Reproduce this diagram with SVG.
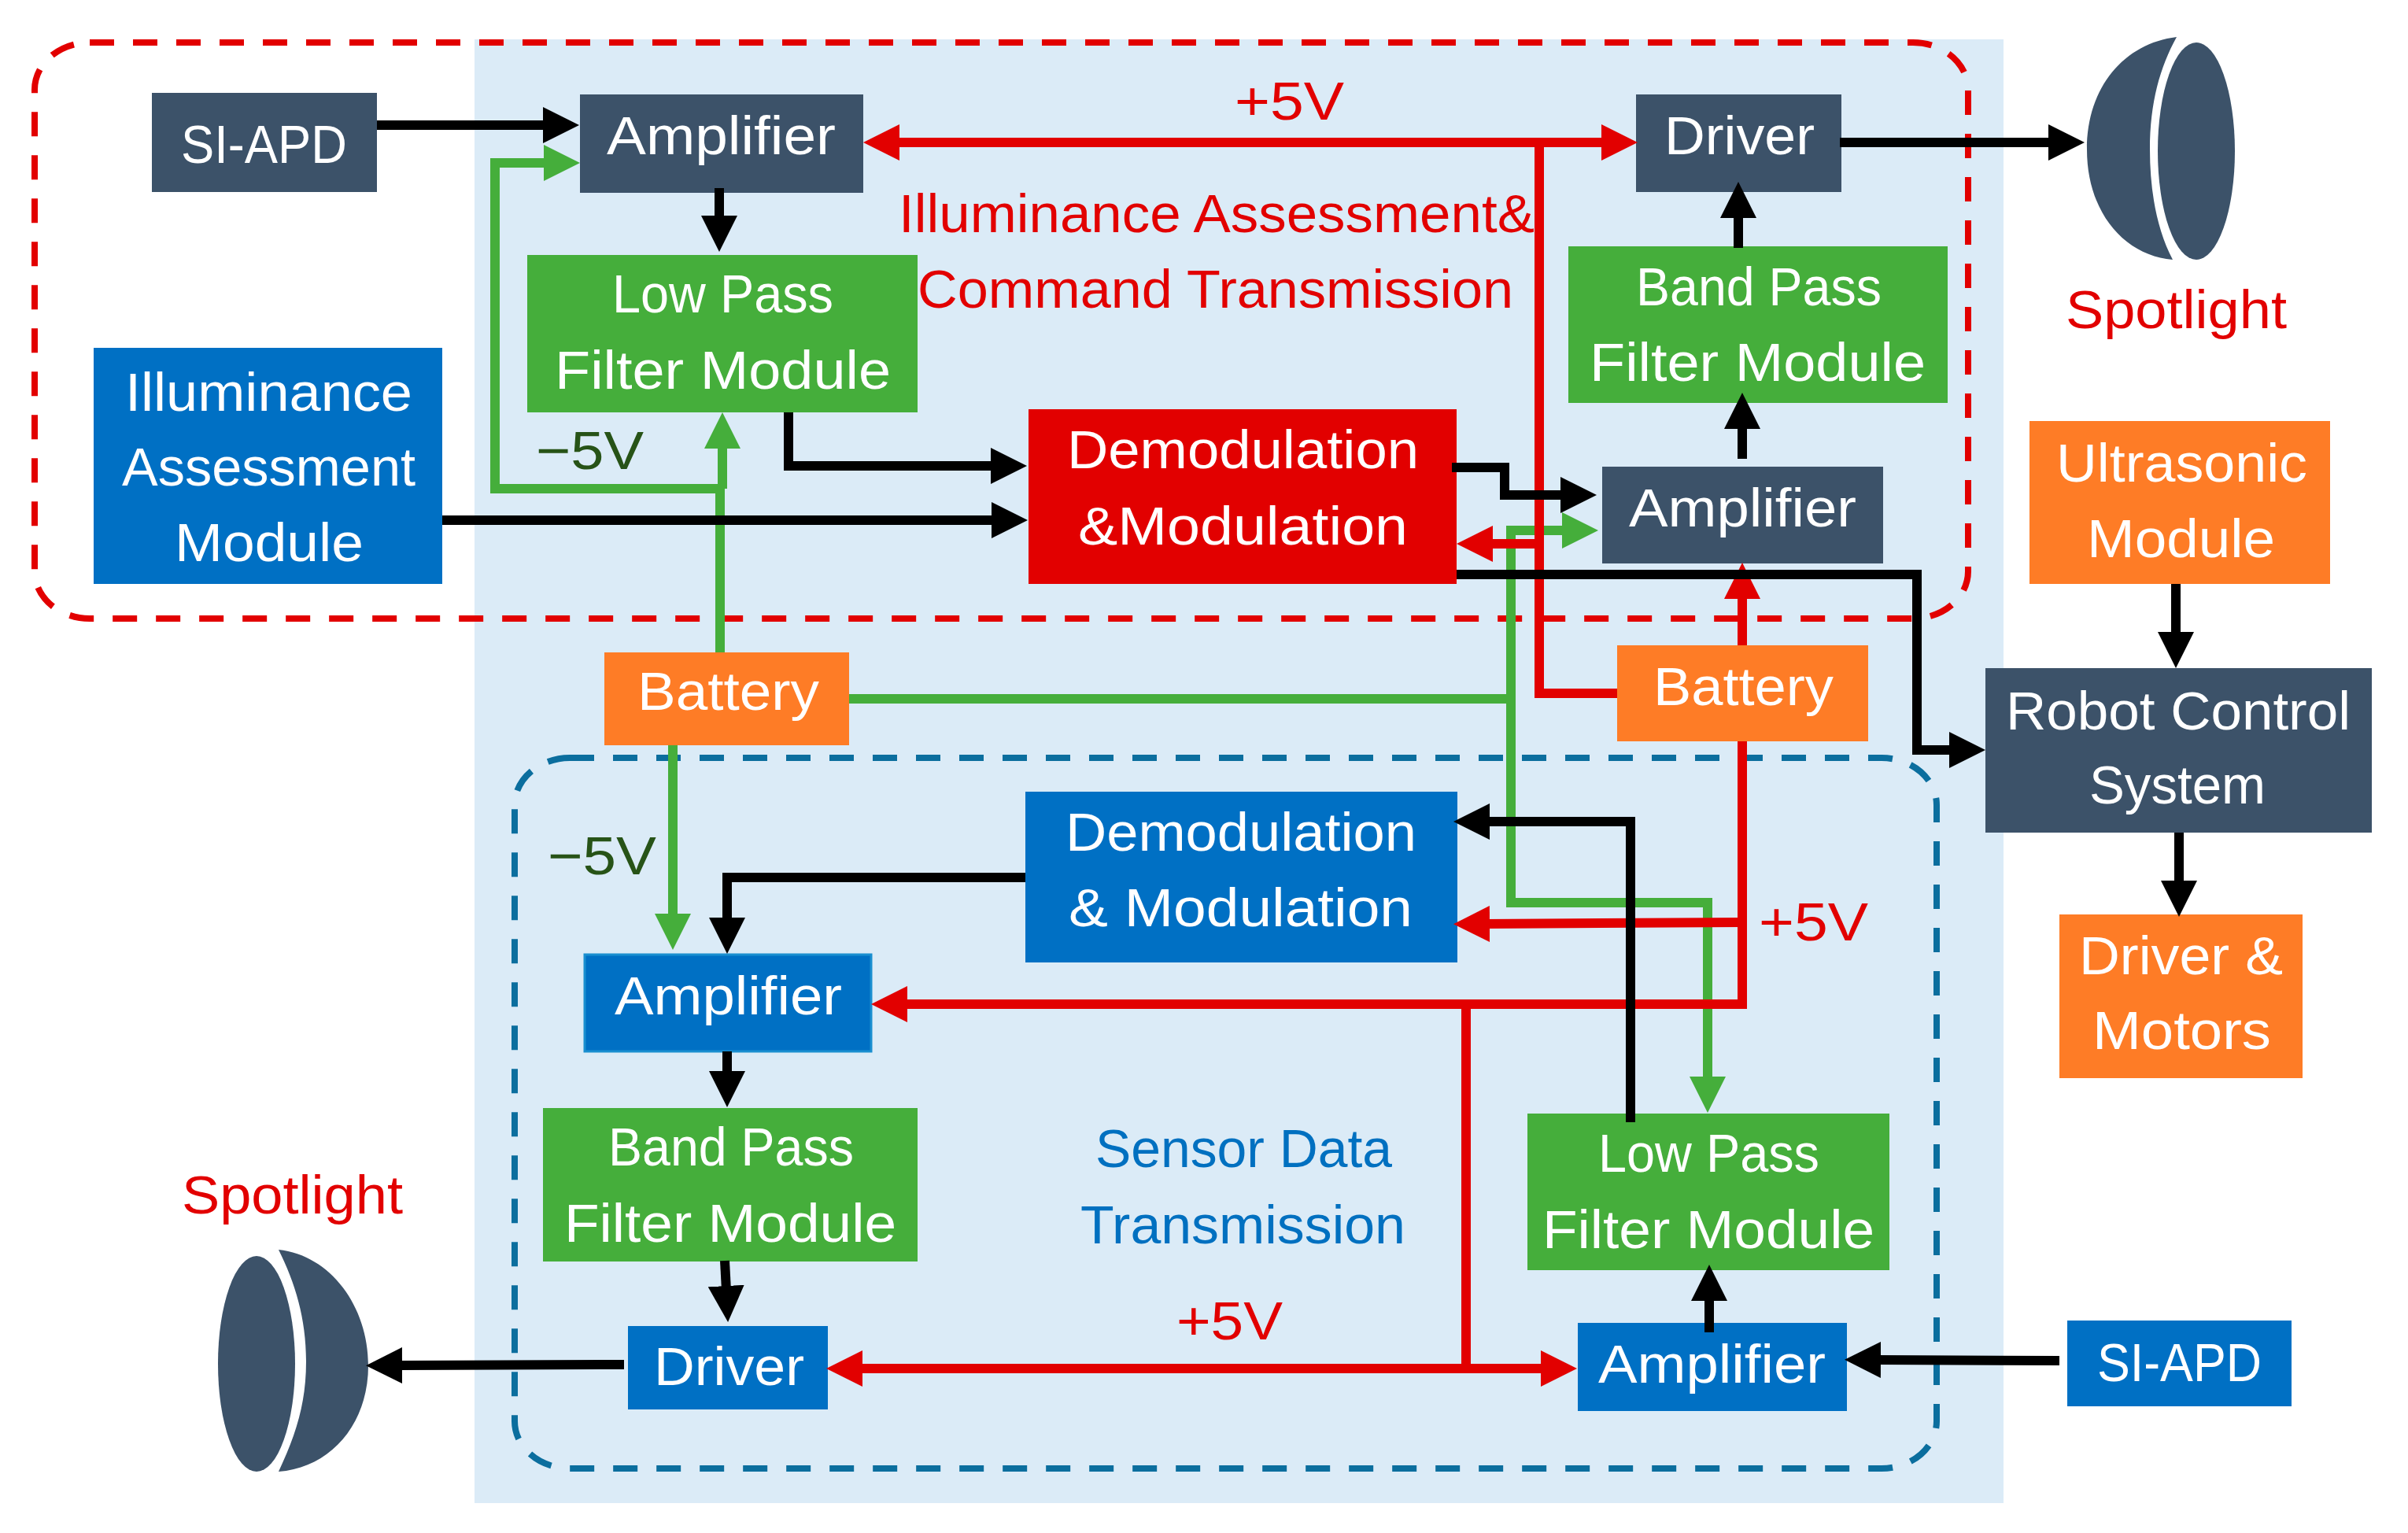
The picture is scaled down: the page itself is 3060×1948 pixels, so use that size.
<svg xmlns="http://www.w3.org/2000/svg" width="3060" height="1948" viewBox="0 0 3060 1948">
<style>
text{font-family:"Liberation Sans",Arial,sans-serif;font-size:69px}
.w{fill:#fff}.r{fill:#e20000}.g{fill:#275317}.b{fill:#0070c0}
.navy{fill:#3c5269}.green{fill:#45ae3b}.blue{fill:#0070c4}.orange{fill:#fe7c26}.red{fill:#e20000}
.c{fill:none;stroke-width:12;stroke-linejoin:miter}
.kb{stroke:#000}.kr{stroke:#e20000}.kg{stroke:#45ae3b}
.ab{marker-end:url(#hb)}.ar{marker-end:url(#hr)}.ag{marker-end:url(#hg)}
</style>
<defs>
<marker id="hb" markerUnits="userSpaceOnUse" markerWidth="46" markerHeight="46" refX="6" refY="23" orient="auto-start-reverse"><polygon points="0,0 46,23 0,46" fill="#000"/></marker>
<marker id="hr" markerUnits="userSpaceOnUse" markerWidth="46" markerHeight="46" refX="6" refY="23" orient="auto-start-reverse"><polygon points="0,0 46,23 0,46" fill="#e20000"/></marker>
<marker id="hg" markerUnits="userSpaceOnUse" markerWidth="46" markerHeight="46" refX="6" refY="23" orient="auto-start-reverse"><polygon points="0,0 46,23 0,46" fill="#45ae3b"/></marker>
</defs>
<rect width="3060" height="1948" fill="#fff"/>
<rect id="background" x="603" y="50" width="1943" height="1860" fill="#dbebf7"/>
<g id="regions" fill="none">
<rect x="44" y="54" width="2457" height="732" rx="70" ry="60" stroke="#e20000" stroke-width="8" stroke-dasharray="31 24"/>
<rect x="654" y="963" width="1807" height="903" rx="70" ry="60" stroke="#0b6e9e" stroke-width="8" stroke-dasharray="31 24"/>
</g>

<g id="n-siapd-top"><rect class="navy" x="193" y="118" width="286" height="126"/><text class="w" x="230" y="207" textLength="211" lengthAdjust="spacingAndGlyphs">SI-APD</text></g>
<g id="n-amp-top"><rect class="navy" x="737" y="120" width="360" height="125"/><text class="w" x="771" y="196" textLength="291" lengthAdjust="spacingAndGlyphs">Amplifier</text></g>
<g id="n-lpf-top"><rect class="green" x="670" y="324" width="496" height="200"/><text class="w" x="778" y="397" textLength="281" lengthAdjust="spacingAndGlyphs">Low Pass</text><text class="w" x="705" y="494" textLength="427" lengthAdjust="spacingAndGlyphs">Filter Module</text></g>
<g id="n-illum"><rect class="blue" x="119" y="442" width="443" height="300"/><text class="w" x="159" y="522" textLength="365" lengthAdjust="spacingAndGlyphs">Illuminance</text><text class="w" x="155" y="617" textLength="373" lengthAdjust="spacingAndGlyphs">Assessment</text><text class="w" x="222" y="713" textLength="240" lengthAdjust="spacingAndGlyphs">Module</text></g>
<g id="n-demod-red"><rect class="red" x="1307" y="520" width="544" height="222"/><text class="w" x="1356" y="595" textLength="447" lengthAdjust="spacingAndGlyphs">Demodulation</text><text class="w" x="1370" y="692" textLength="419" lengthAdjust="spacingAndGlyphs">&amp;Modulation</text></g>
<g id="n-driver-top"><rect class="navy" x="2079" y="120" width="261" height="124"/><text class="w" x="2115" y="196" textLength="191" lengthAdjust="spacingAndGlyphs">Driver</text></g>
<g id="n-bpf-top"><rect class="green" x="1993" y="313" width="482" height="199"/><text class="w" x="2079" y="388" textLength="312" lengthAdjust="spacingAndGlyphs">Band Pass</text><text class="w" x="2020" y="484" textLength="427" lengthAdjust="spacingAndGlyphs">Filter Module</text></g>
<g id="n-amp-right"><rect class="navy" x="2036" y="593" width="357" height="123"/><text class="w" x="2070" y="669" textLength="289" lengthAdjust="spacingAndGlyphs">Amplifier</text></g>
<g id="n-ultra"><rect class="orange" x="2579" y="535" width="382" height="207"/><text class="w" x="2613" y="612" textLength="319" lengthAdjust="spacingAndGlyphs">Ultrasonic</text><text class="w" x="2652" y="708" textLength="239" lengthAdjust="spacingAndGlyphs">Module</text></g>
<g id="n-robot"><rect class="navy" x="2523" y="849" width="491" height="209"/><text class="w" x="2549" y="927" textLength="438" lengthAdjust="spacingAndGlyphs">Robot Control</text><text class="w" x="2655" y="1021" textLength="224" lengthAdjust="spacingAndGlyphs">System</text></g>
<g id="n-motors"><rect class="orange" x="2617" y="1162" width="309" height="208"/><text class="w" x="2642" y="1238" textLength="259" lengthAdjust="spacingAndGlyphs">Driver &amp;</text><text class="w" x="2659" y="1333" textLength="227" lengthAdjust="spacingAndGlyphs">Motors</text></g>
<g id="n-battery-left"><rect class="orange" x="768" y="829" width="311" height="118"/><text class="w" x="810" y="902" textLength="231" lengthAdjust="spacingAndGlyphs">Battery</text></g>
<g id="n-battery-right"><rect class="orange" x="2055" y="820" width="319" height="122"/><text class="w" x="2101" y="896" textLength="229" lengthAdjust="spacingAndGlyphs">Battery</text></g>
<g id="n-demod-blue"><rect class="blue" x="1303" y="1006" width="549" height="217"/><text class="w" x="1354" y="1081" textLength="446" lengthAdjust="spacingAndGlyphs">Demodulation</text><text class="w" x="1358" y="1177" textLength="437" lengthAdjust="spacingAndGlyphs">&amp; Modulation</text></g>
<g id="n-amp-blue"><rect class="blue" x="743" y="1213" width="364" height="123" stroke="#1a8fd0" stroke-width="3"/><text class="w" x="781" y="1289" textLength="289" lengthAdjust="spacingAndGlyphs">Amplifier</text></g>
<g id="n-bpf-bottom"><rect class="green" x="690" y="1408" width="476" height="195"/><text class="w" x="773" y="1481" textLength="312" lengthAdjust="spacingAndGlyphs">Band Pass</text><text class="w" x="717" y="1578" textLength="422" lengthAdjust="spacingAndGlyphs">Filter Module</text></g>
<g id="n-driver-bottom"><rect class="blue" x="798" y="1685" width="254" height="106"/><text class="w" x="831" y="1760" textLength="191" lengthAdjust="spacingAndGlyphs">Driver</text></g>
<g id="n-lpf-bottom"><rect class="green" x="1941" y="1415" width="460" height="199"/><text class="w" x="2031" y="1489" textLength="281" lengthAdjust="spacingAndGlyphs">Low Pass</text><text class="w" x="1960" y="1586" textLength="422" lengthAdjust="spacingAndGlyphs">Filter Module</text></g>
<g id="n-amp-br"><rect class="blue" x="2005" y="1681" width="342" height="112"/><text class="w" x="2031" y="1757" textLength="289" lengthAdjust="spacingAndGlyphs">Amplifier</text></g>
<g id="n-siapd-bottom"><rect class="blue" x="2627" y="1678" width="285" height="109"/><text class="w" x="2665" y="1755" textLength="209" lengthAdjust="spacingAndGlyphs">SI-APD</text></g>

<g id="n-spot-top"><path class="navy" d="M2766 47C2700 55 2652 110 2652 190C2652 270 2700 325 2761 330C2740 290 2732 240 2732 190C2732 130 2745 85 2766 47Z"/><ellipse class="navy" cx="2791" cy="192" rx="49" ry="138"/></g>
<g id="n-spot-bottom"><path class="navy" d="M354 1588C420 1595 468 1660 468 1735C468 1810 420 1865 354 1870C375 1825 389 1785 389 1730C389 1675 375 1630 354 1588Z"/><ellipse class="navy" cx="326" cy="1733" rx="49" ry="137"/></g>

<g id="connectors">
<path class="c kg ag" d="M915 829V621H629V207H697"/>
<path class="c kg ag" d="M918 621V564"/>
<path class="c kg" d="M1079 888H1920"/>
<path class="c kg ag" d="M1920 674H1991"/>
<path class="c kg ag" d="M1920 668V1147H2170V1374"/>
<path class="c kg ag" d="M855 947V1167"/>
<path class="c kr ar" style="marker-start:url(#hr)" d="M1137 181H2041"/>
<path class="c kr" d="M1956 181V881H2055"/>
<path class="c kr ar" d="M1956 691H1891"/>
<path class="c kr ar" d="M2214 820V755"/>
<path class="c kr ar" d="M2214 942V1276H1147"/>
<path class="c kr ar" d="M2214 1172L1887 1174"/>
<path class="c kr" d="M1863 1276V1739"/>
<path class="c kr ar" style="marker-start:url(#hr)" d="M1090 1739H1964"/>
<path class="c kb ab" d="M479 159H696"/>
<path class="c kb ab" d="M914 239V280"/>
<path class="c kb ab" d="M1002 524V592H1265"/>
<path class="c kb ab" d="M562 661H1266"/>
<path class="c kb ab" d="M1845 594H1912V629H1989"/>
<path class="c kb ab" d="M1851 730H2436V953H2483"/>
<path class="c kb ab" d="M2338 181H2609"/>
<path class="c kb ab" d="M2209 315V271"/>
<path class="c kb ab" d="M2214 583V539"/>
<path class="c kb ab" d="M2765 742V809"/>
<path class="c kb ab" d="M2769 1058V1125"/>
<path class="c kb ab" d="M2072 1426V1044H1887"/>
<path class="c kb ab" d="M1303 1115H924V1172"/>
<path class="c kb ab" d="M924 1336V1367"/>
<path class="c kb ab" d="M921 1602L923 1640"/>
<path class="c kb ab" d="M793 1734L505 1735"/>
<path class="c kb ab" d="M2172 1693V1647"/>
<path class="c kb ab" d="M2617 1729L2384 1728"/>
</g>

<g id="labels">
<text class="r" x="1142" y="295" textLength="808" lengthAdjust="spacingAndGlyphs">Illuminance Assessment&amp;</text>
<text class="r" x="1166" y="391" textLength="757" lengthAdjust="spacingAndGlyphs">Command Transmission</text>
<text class="r" x="1569" y="152" textLength="139" lengthAdjust="spacingAndGlyphs">+5V</text>
<text class="r" x="2625" y="417" textLength="281" lengthAdjust="spacingAndGlyphs">Spotlight</text>
<text class="g" x="681" y="596" textLength="137" lengthAdjust="spacingAndGlyphs">−5V</text>
<text class="g" x="696" y="1111" textLength="138" lengthAdjust="spacingAndGlyphs">−5V</text>
<text class="r" x="2235" y="1195" textLength="139" lengthAdjust="spacingAndGlyphs">+5V</text>
<text class="b" x="1392" y="1483" textLength="377" lengthAdjust="spacingAndGlyphs">Sensor Data</text>
<text class="b" x="1373" y="1580" textLength="413" lengthAdjust="spacingAndGlyphs">Transmission</text>
<text class="r" x="1495" y="1702" textLength="135" lengthAdjust="spacingAndGlyphs">+5V</text>
<text class="r" x="231" y="1542" textLength="281" lengthAdjust="spacingAndGlyphs">Spotlight</text>
</g>
</svg>
